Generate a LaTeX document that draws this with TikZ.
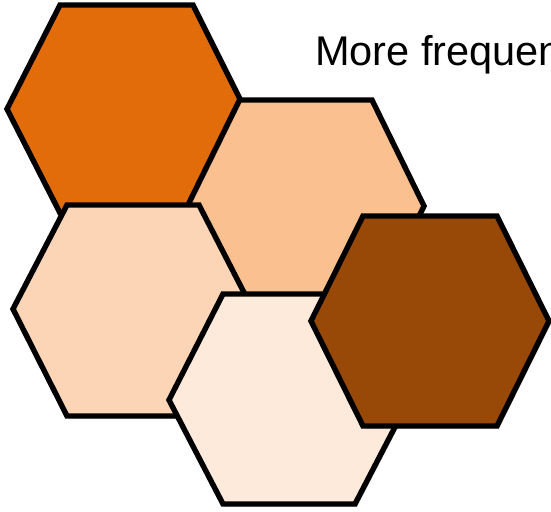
\documentclass[tikz,border=0pt]{standalone}
\usepackage{fontspec}
\setmainfont{Liberation Sans}
\definecolor{hexA}{HTML}{E36C0A}
\definecolor{hexB}{HTML}{FAC090}
\definecolor{hexC}{HTML}{FBD5B5}
\definecolor{hexD}{HTML}{FDEADA}
\definecolor{hexE}{HTML}{984807}
\tikzset{
  hexshape/.style={draw=black, line width=5.4pt, line join=miter, miter limit=10},
  hexshadow/.style={fill=black, fill opacity=0.13, draw=none},
  label/.style={font=\fontsize{41.5}{48}\selectfont, anchor=base west, inner sep=0pt}
}
\newcommand{\hexagonat}[7]{%
  \fill[hexshadow, xshift=2pt, yshift=-3pt] #2 -- #3 -- #4 -- #5 -- #6 -- #7 -- cycle;
  \filldraw[hexshape, fill=#1] #2 -- #3 -- #4 -- #5 -- #6 -- #7 -- cycle;
}
\begin{document}
\begin{tikzpicture}[x=1pt,y=-1pt]
\useasboundingbox (0,0) rectangle (551,511);
\clip (0,0) rectangle (551,511);
\fill[white] (0,0) rectangle (551,511);
% hex 2 (back)
\hexagonat{hexB}{(239,100)}{(372,100)}{(424,206)}{(372,312)}{(239,312)}{(186,206)}
% hex 1
\hexagonat{hexA}{(60,5)}{(193,5)}{(240,99)}{(184,213)}{(60,213)}{(7,109)}
% hex 3
\hexagonat{hexC}{(67,205)}{(199,205)}{(253,310)}{(199,416)}{(67,416)}{(13,309)}
% hex 4
\hexagonat{hexD}{(223,294)}{(355,294)}{(409,400)}{(355,504)}{(223,504)}{(169,400)}
% hex 5
\hexagonat{hexE}{(363,216)}{(497,216)}{(549,321)}{(497,426)}{(363,426)}{(311,321)}
\node[label] (title) at (315,65) {More frequen};
\end{tikzpicture}
\end{document}
